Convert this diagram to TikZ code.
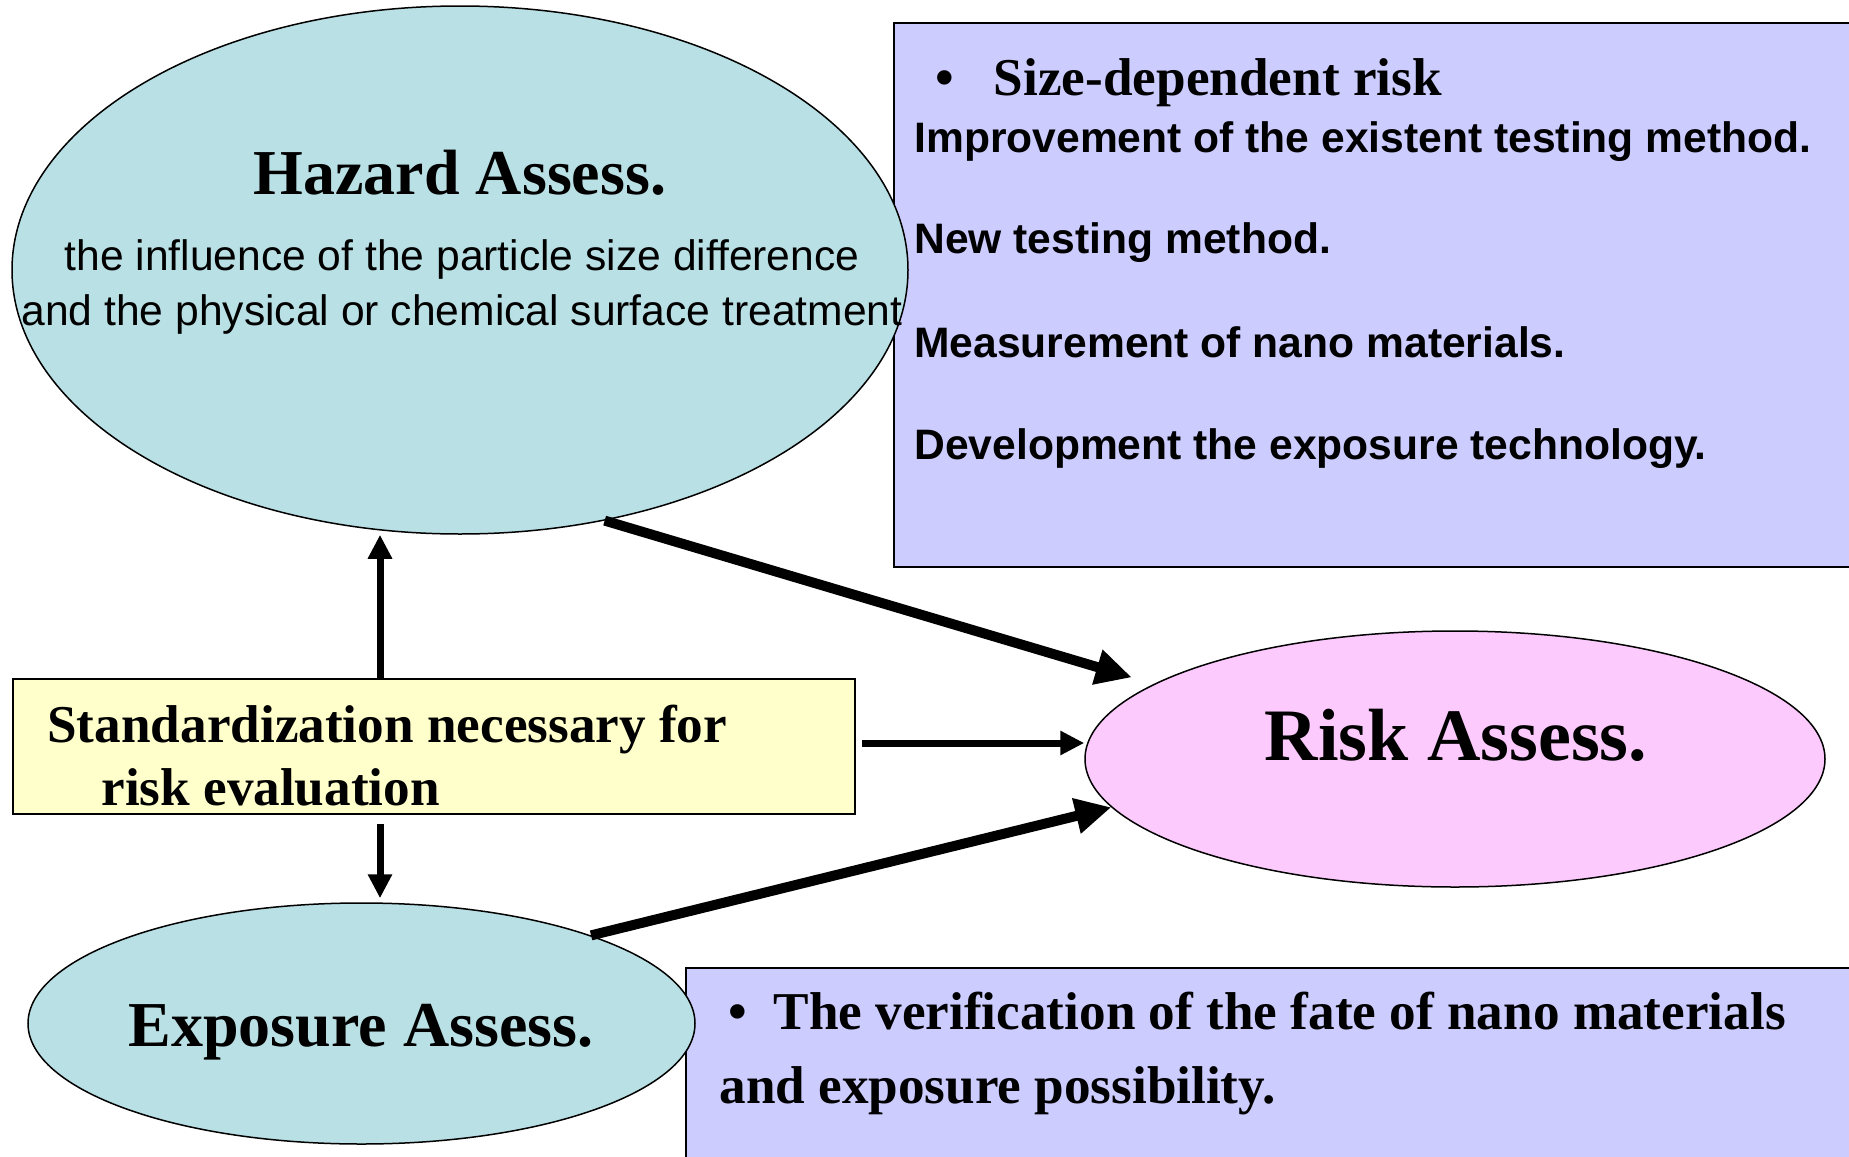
\documentclass[tikz,border=0pt]{standalone}
\usepackage{fontspec}
\setmainfont{Liberation Serif}
\setsansfont{Liberation Sans}
\usetikzlibrary{shapes.geometric,arrows.meta}

\definecolor{hazardcol}{RGB}{185,224,228}
\definecolor{riskcol}{RGB}{252,202,252}
\definecolor{boxcol}{RGB}{204,204,255}
\definecolor{stdcol}{RGB}{255,255,204}

\begin{document}
\begin{tikzpicture}[x=0.5pt, y=-0.5pt, >={Triangle[length=12pt,width=11.5pt]},
  assess/.style={ellipse, draw, line width=0.75pt, inner sep=0pt},
  infobox/.style={draw, line width=1pt, inner sep=0pt},
  plain text/.style={inner sep=0pt},
  thin arrow/.style={->, line width=3.5pt},
  thick arrow/.style={-{Triangle[length=18pt,width=17pt]}, line width=5pt}]

\useasboundingbox (0,0) rectangle (1849,1157);
\clip (0,0) rectangle (1849,1157);

% boxes first, the ellipses lie over them
\node [infobox, fill=boxcol, anchor=north west, minimum width=483.5pt, minimum height=272pt] (sizebox) at (893,22) {};
\node [infobox, fill=boxcol, anchor=north west, minimum width=587.5pt, minimum height=105pt] (fatebox) at (685,967) {};
\node [infobox, fill=stdcol, minimum width=421pt, minimum height=67.5pt] (std) at (434,746.5) {};

\node [assess, fill=hazardcol, minimum width=448pt, minimum height=264pt] (hazard) at (460,270) {};
\node [assess, fill=riskcol, minimum width=370pt, minimum height=128pt] (risk) at (1455,759) {};
\node [assess, fill=hazardcol, minimum width=333.5pt, minimum height=120.5pt] (expo) at (361.5,1023.5) {};

% texts
\node [plain text, font=\fontsize{32}{38}\selectfont\bfseries] (hazard-title) at (460,173) {Hazard Assess.};
\node [plain text, align=center, font=\sffamily\fontsize{21.3}{27.5}\selectfont] (hazard-text) at (462,287)
  {the influence of the particle size difference\\and the physical or chemical surface treatment};
\node [plain text, font=\fontsize{37}{44}\selectfont\bfseries] (risk-title) at (1456,735) {Risk Assess.};
\node [plain text, font=\fontsize{32}{38}\selectfont\bfseries] (expo-title) at (361,1032) {Exposure Assess.};

\node [plain text, anchor=west, font=\fontsize{26.6}{32}\selectfont\bfseries] (size-head) at (935,83)
  {\textbullet\hspace{0.75em}Size-dependent risk};
\foreach \y/\t [count=\i] in {142/Improvement of the existent testing method.,
    243/New testing method., 342/Measurement of nano materials.,
    449/Development the exposure technology.}
  \node [plain text, anchor=west, font=\sffamily\bfseries\fontsize{21.3}{26}\selectfont] (item-\i) at (914,\y) {\t};

\node [plain text, anchor=west, align=left, font=\fontsize{26.6}{31.5}\selectfont\bfseries] (std-text) at (47,755.5)
  {Standardization necessary for\\\hspace*{27pt}risk evaluation};
\node [plain text, anchor=west, align=left, font=\fontsize{26.6}{37}\selectfont\bfseries] (fate-text) at (719,1054)
  {\hspace*{4.5pt}\textbullet\hspace{0.5em}The verification of the fate of nano materials\\and exposure possibility.};

% connectors
\draw [thick arrow, shorten >=11.5pt] (hazard.-60) -- (risk.166);
\draw [thick arrow] (expo.21) -- (risk.188);
\draw [thin arrow, shorten <=3pt] ([yshift=1.75pt]std.east) -- ([yshift=1.75pt]std.east -| risk.west);
\draw [thin arrow] ([xshift=-27pt]std.north) -- ([xshift=-27pt]std.north |- hazard.south);
\draw [thin arrow, shorten <=4.5pt, shorten >=2pt] ([xshift=-27pt]std.south) -- ([xshift=-27pt]std.south |- expo.north);

\end{tikzpicture}
\end{document}
